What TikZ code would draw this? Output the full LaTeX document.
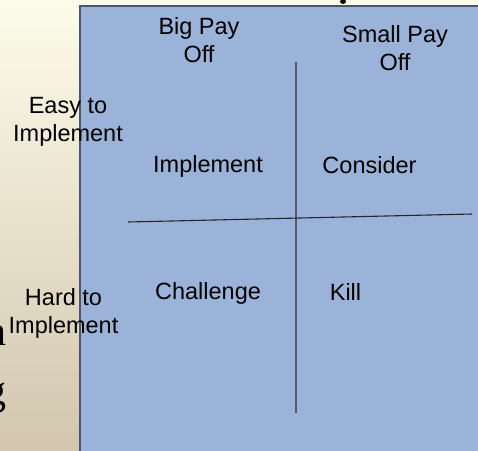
\documentclass[tikz,border=0pt]{standalone}
\usepackage{fontspec}
\setmainfont{Liberation Sans}
\newfontfamily\slideserif{Liberation Serif}
\usepackage{tikz}
\usetikzlibrary{calc}
\usepackage{xcolor}
\definecolor{slidetop}{RGB}{253,252,234}
\definecolor{slidebottom}{RGB}{210,198,174}
\definecolor{quadblue}{RGB}{155,179,216}
\definecolor{quadedge}{RGB}{78,84,98}
\definecolor{axisgray}{RGB}{80,90,110}

\begin{document}
\begin{tikzpicture}[x=1pt,y=-1pt,
  lbl/.style={font=\fontsize{23.5}{28.5}\selectfont,align=center,anchor=north,inner sep=0pt},
  bigserif/.style={font=\slideserif\fontsize{42}{42}\selectfont,anchor=base east,inner sep=0pt}]
  \useasboundingbox (0,0) rectangle (478,450);
  \clip (0,0) rectangle (478,450);
  % slide background and the grid panel
  \shade[top color=slidetop,bottom color=slidebottom] (0,0) rectangle (478,450);
  \fill[black] (343,1.5) ellipse (3 and 2.5);
  \node[bigserif] (tailn) at (6.5,345) {n}; \node[bigserif] (tailg) at (6.5,404) {g};
  \fill[quadblue] (80,6) rectangle (480,452);
  \draw[quadedge,line width=1.2pt] (80,452) -- (80,6) -- (480,6);
  % axes of the grid
  \coordinate (V1) at (295.7,62); \coordinate (V2) at (295.7,413);
  \coordinate (H1) at (128,222); \coordinate (H2) at (472,214);
  \draw[axisgray,line width=1.8pt] (V1) -- (V2);
  \draw[black!85,line width=1.1pt] (H1) -- (H2);
  % headings
  \node[lbl] (bigpay) at (199,17) {Big Pay\\Off};
  \node[lbl] (smallpay) at (395,25) {Small Pay\\Off};
  \node[lbl] (easy) at (68,97) {Easy to\\Implement};
  \node[lbl] (hard) at (63.5,288) {Hard to\\Implement};
  % quadrants
  \node[lbl] (implement) at (208,155) {Implement};
  \node[lbl] (consider) at (369.5,156) {Consider};
  \node[lbl] (challenge) at (208,282) {Challenge};
  \node[lbl] (kill) at (345.5,283) {Kill};
\end{tikzpicture}
\end{document}
